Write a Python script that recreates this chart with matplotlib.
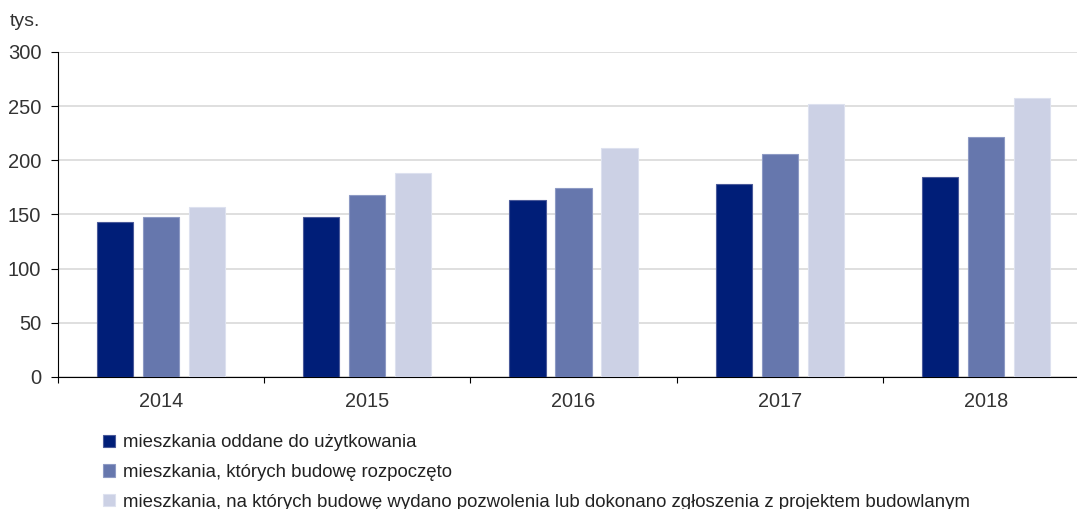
import numpy as np
import matplotlib.pyplot as plt

plt.rcParams['font.family'] = ['Liberation Sans', 'DejaVu Sans']

lata = ['2014', '2015', '2016', '2017', '2018']
oddane = [143.2, 148.0, 163.3, 178.3, 184.8]
rozpoczete = [148.1, 168.4, 174.0, 205.8, 221.9]
pozwolenia = [157.0, 188.2, 211.0, 251.6, 257.9]
serie_nazwy = ['mieszkania oddane do użytkowania',
               'mieszkania, których budowę rozpoczęto',
               'mieszkania, na których budowę wydano pozwolenia lub dokonano zgłoszenia z projektem budowlanym']
kolory = ['#001e78', '#6677ad', '#ccd1e5']
krawedzie = ['#4a5a9a', '#8d9ac4', '#dde1ef']

fig = plt.figure(figsize=(10.77, 5.09), dpi=100)
ax = fig.add_axes([58 / 1077, 1 - 377 / 509, 1 - 58 / 1077, 325 / 509])

x = np.arange(len(lata))
w = 0.175
off = 0.223
for i, vals in enumerate([oddane, rozpoczete, pozwolenia]):
    ax.bar(x + (i - 1) * off, vals, width=w, color=kolory[i], edgecolor=krawedzie[i],
           linewidth=0.8, label=serie_nazwy[i], zorder=3)

ax.set_yticks(range(0, 301, 50))
ax.yaxis.grid(True, color='#d9d9d9', linewidth=1.2, zorder=0)
ax.set_axisbelow(True)
for s in ['top', 'right']:
    ax.spines[s].set_visible(False)
ax.spines['left'].set_color('#000000')
ax.spines['bottom'].set_color('#000000')

ax.set_xticks(np.arange(-0.5, 5, 1))
ax.set_xticklabels([])
ax.set_xticks(x, minor=True)
ax.set_xticklabels(lata, minor=True)
# granice po ustawieniu tickow, bo set_xticks poszerza zakres
ax.set_xlim(-0.5, -0.5 + (1077 - 58) / 206.2)
ax.set_ylim(0, 300)
ax.tick_params(axis='x', which='major', length=4.5, direction='out', color='#000000')
ax.tick_params(axis='x', which='minor', length=0, pad=11, labelsize=14.3, labelcolor='#333333')
ax.tick_params(axis='y', length=5, direction='out', pad=7, labelsize=14.5, labelcolor='#333333')

fig.text(10 / 1077, 1 - 21 / 509, 'tys.', fontsize=14, color='#333333', va='center')

fig.legend(loc='upper left', bbox_to_anchor=(95.6 / 1077, 1 - 427 / 509), frameon=False,
           handlelength=0.65, handleheight=0.65, handletextpad=0.43, labelspacing=0.68,
           fontsize=13.4, borderaxespad=0, labelcolor='#222222')

fig.savefig('out.png', dpi=100)
